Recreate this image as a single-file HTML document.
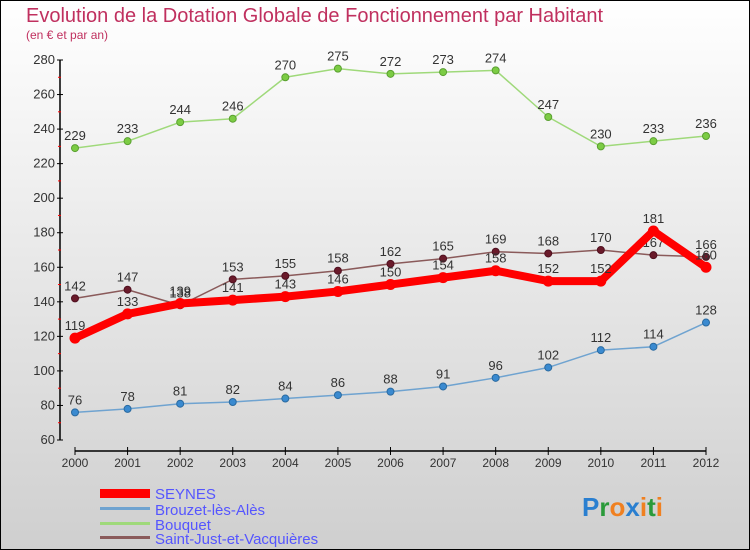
<!DOCTYPE html>
<html><head><meta charset="utf-8"><style>
body{margin:0;}
#c{width:750px;height:550px;position:relative;overflow:hidden;font-family:"Liberation Sans",sans-serif;}
</style></head><body>
<div id="c">
<svg id="svg" width="750" height="550" xmlns="http://www.w3.org/2000/svg">
<defs><linearGradient id="bg" x1="0" y1="0" x2="0" y2="1"><stop offset="0" stop-color="#ffffff"/><stop offset="1" stop-color="#cfcfcf"/></linearGradient></defs>
<rect x="0.5" y="0.5" width="749" height="549" fill="url(#bg)" stroke="#000"/>
<text x="26" y="22" font-size="20" fill="#c0305f">Evolution de la Dotation Globale de Fonctionnement par Habitant</text>
<text x="26" y="39" font-size="12" fill="#c0305f">(en € et par an)</text>
<g id="axes"></g><g id="series"></g>
<g>
<rect x="100" y="489" width="50" height="9" fill="#f00"/>
<text x="155" y="499" font-size="15" fill="#5555ff">SEYNES</text>
<rect x="100" y="507" width="50" height="3" fill="#6fa3d0"/>
<text x="155" y="515" font-size="15" fill="#5555ff">Brouzet-lès-Alès</text>
<rect x="100" y="522" width="50" height="3" fill="#9fd97a"/>
<text x="155" y="530" font-size="15" fill="#5555ff">Bouquet</text>
<rect x="100" y="536" width="50" height="3" fill="#8a5a5a"/>
<text x="155" y="544" font-size="15" fill="#5555ff">Saint-Just-et-Vacquières</text>
</g>
<text x="582" y="516" font-size="26" font-weight="bold"><tspan fill="#2a7fd0">P</tspan><tspan fill="#2a9a3a">r</tspan><tspan fill="#f08020">o</tspan><tspan fill="#2a7fd0">x</tspan><tspan fill="#f08020">i</tspan><tspan fill="#2a9a3a">t</tspan><tspan fill="#f08020">i</tspan></text>
</svg></div>
<script>
const years=[2000,2001,2002,2003,2004,2005,2006,2007,2008,2009,2010,2011,2012];
const seynes=[119,133,139,141,143,146,150,154,158,152,152,181,160];
const brouzet=[76,78,81,82,84,86,88,91,96,102,112,114,128];
const bouquet=[229,233,244,246,270,275,272,273,274,247,230,233,236];
const saintJust=[142,147,138,153,155,158,162,165,169,168,170,167,166];
const yTicks=[60,80,100,120,140,160,180,200,220,240,260,280];
const NS="http://www.w3.org/2000/svg";
const X=i=>75+i*(631/12);
const Y=v=>440-(v-60)*380/220;
function mk(t,a,p){const e=document.createElementNS(NS,t);for(const k in a)e.setAttribute(k,a[k]);p.appendChild(e);return e;}
const ax=document.getElementById('axes');
let l=mk('line',{x1:60,y1:Y(280),x2:60,y2:Y(60),stroke:'#000','stroke-width':1.5},ax);


l=mk('line',{x1:X(0),y1:451,x2:X(12),y2:451,stroke:'#000','stroke-width':1.5},ax);


yTicks.forEach(v=>{
 mk('line',{x1:57,y1:Y(v),x2:63,y2:Y(v),stroke:'#000'},ax);
 if(v<280) mk('line',{x1:58,y1:Y(v+10),x2:61,y2:Y(v+10),stroke:'#f00'},ax);
 const t=mk('text',{x:55,y:Y(v)+4,'font-size':13,fill:'#333','text-anchor':'end'},ax);t.textContent=v;
 
 
});
years.forEach((yr,i)=>{
 mk('line',{x1:X(i),y1:447,x2:X(i),y2:455,stroke:'#000'},ax);
 const t=mk('text',{x:X(i),y:467,'font-size':12,fill:'#333','text-anchor':'middle'},ax);t.textContent=yr;
 
 
});
const sg=document.getElementById('series');
function series(d,name,color,w,dot,dotStroke,r){
 const g=mk('g',{},sg);
 
 
 mk('polyline',{points:d.map((v,i)=>X(i)+','+Y(v)).join(' '),fill:'none',stroke:color,'stroke-width':w,'stroke-linejoin':'round'},g);
 d.forEach((v,i)=>{
  const c=mk('circle',{cx:X(i),cy:Y(v),r:r,fill:dot,stroke:dotStroke},g);
  
  
  const t=mk('text',{x:X(i),y:Y(v)-8,'font-size':13,fill:'#333','text-anchor':'middle'},g);t.textContent=v;
  
  
 });
}
series(bouquet,'bouquet','#9fd97a',1.5,'#7ccc44','#5aa030',3.5);
series(brouzet,'brouzet','#6fa3d0',1.5,'#3a8ad0','#2a6aa0',3.5);
series(saintJust,'saint-just','#8a5a5a',1.5,'#6a1a2a','#501020',3.5);
series(seynes,'seynes','#f00',8,'#f00','#f00',5);
</script>
</body></html>
